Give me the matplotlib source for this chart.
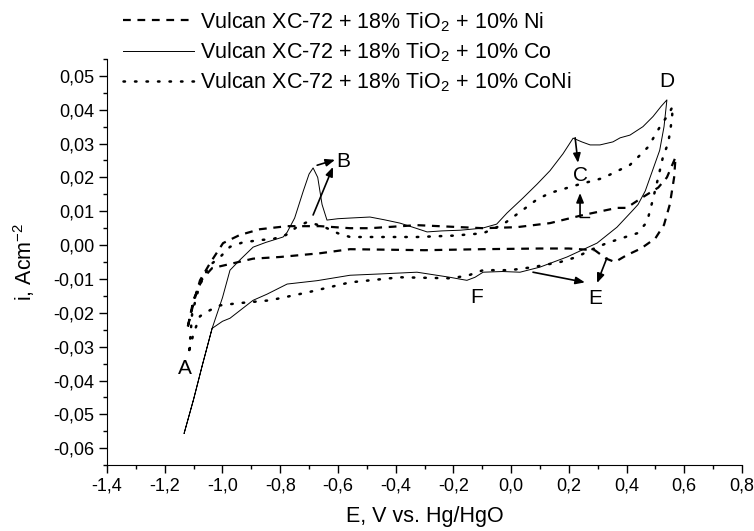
# VOLTAMETRIA CICLICA: Vulcan XC-72 + TiO2 com Ni, Co e CoNi

# Importando Biblioteca
import numpy as np
import matplotlib
matplotlib.use('Agg')
import matplotlib.pyplot as plt
from matplotlib.ticker import MultipleLocator, FuncFormatter

# DADOS (E em V vs. Hg/HgO, i em A/cm2)

# Co - linha cheia
potencial_co = [-1.133, -1.10, -1.07, -1.036, -1.0, -0.974, -0.94, -0.894, -0.85, -0.79,
                -0.776, -0.75, -0.72, -0.70, -0.686, -0.67, -0.655, -0.638, -0.60, -0.558,
                -0.489, -0.44, -0.385, -0.33, -0.291, -0.24, -0.177, -0.10, -0.05, -0.014,
                0.041, 0.09, 0.135, 0.18, 0.215, 0.245, 0.274, 0.308, 0.353, 0.378,
                0.412, 0.457, 0.492, 0.52, 0.54, 0.53, 0.515, 0.49, 0.465, 0.44,
                0.423, 0.367, 0.298, 0.194, 0.10, 0.031, -0.03, -0.097, -0.125, -0.153,
                -0.18, -0.212, -0.326, -0.45, -0.558, -0.672, -0.776, -0.846, -0.894, -0.974,
                -1.0, -1.036, -1.07, -1.10, -1.133]
corrente_co = [-0.0556, -0.0455, -0.0355, -0.0246, -0.0155, -0.0074, -0.0044, -0.0006, 0.0008, 0.0024,
               0.0038, 0.0080, 0.0160, 0.0210, 0.0228, 0.0200, 0.0120, 0.0074, 0.0078, 0.0080,
               0.0083, 0.0075, 0.0065, 0.0050, 0.0039, 0.0042, 0.0044, 0.0050, 0.0062, 0.0095,
               0.0139, 0.0180, 0.0220, 0.0270, 0.0316, 0.0305, 0.0296, 0.0296, 0.0305, 0.0317,
               0.0325, 0.0350, 0.0380, 0.0410, 0.0429, 0.0350, 0.0280, 0.0220, 0.0160, 0.0120,
               0.0104, 0.0053, 0.0006, -0.0035, -0.0065, -0.0080, -0.0078, -0.0080, -0.0095, -0.0104,
               -0.0100, -0.0095, -0.0080, -0.0085, -0.0089, -0.0105, -0.0115, -0.0145, -0.0163, -0.0216,
               -0.0225, -0.0246, -0.0355, -0.0455, -0.0556]

# Ni - linha tracejada
potencial_ni = [-1.12, -1.10, -1.078, -1.043, -0.998, -0.94, -0.87, -0.776, -0.662, -0.558,
                -0.489, -0.326, -0.097, 0.02, 0.135, 0.25, 0.367, 0.40, 0.457, 0.51,
                0.54, 0.56, 0.57, 0.565, 0.55, 0.53, 0.50, 0.45, 0.40, 0.36,
                0.33, 0.29, 0.20, 0.10, -0.10, -0.30, -0.558, -0.662, -0.80, -0.894,
                -0.97, -1.036, -1.07, -1.10, -1.12]
corrente_ni = [-0.0240, -0.0170, -0.0104, -0.0053, 0.0006, 0.0030, 0.0047, 0.0056, 0.0056, 0.0050,
               0.0050, 0.0059, 0.0050, 0.0053, 0.0065, 0.0089, 0.0110, 0.0110, 0.0142, 0.0170,
               0.0200, 0.0240, 0.0260, 0.0200, 0.0120, 0.0060, 0.0020, -0.0010, -0.0030, -0.0050,
               -0.0040, -0.0015, -0.0010, -0.0010, -0.0012, -0.0015, -0.0012, -0.0024, -0.0035, -0.0040,
               -0.0055, -0.0068, -0.0100, -0.0160, -0.0240]

# CoNi - linha pontilhada
potencial_coni = [-1.115, -1.105, -1.08, -1.045, -1.008, -0.974, -0.93, -0.87, -0.825, -0.78,
                  -0.74, -0.707, -0.67, -0.638, -0.60, -0.558, -0.45, -0.326, -0.20, -0.097,
                  -0.03, 0.041, 0.09, 0.135, 0.23, 0.318, 0.412, 0.44, 0.475, 0.499,
                  0.523, 0.545, 0.56, 0.558, 0.552, 0.544, 0.527, 0.51, 0.49, 0.471,
                  0.437, 0.40, 0.332, 0.274, 0.228, 0.17, 0.076, -0.004, -0.097, -0.15,
                  -0.21, -0.385, -0.558, -0.707, -0.835, -0.95, -1.008, -1.043, -1.078, -1.10,
                  -1.115]
corrente_coni = [-0.0310, -0.0200, -0.0120, -0.0060, -0.0035, -0.0005, 0.0008, 0.0015, 0.0018, 0.0030,
                 0.0055, 0.0068, 0.0060, 0.0050, 0.0035, 0.0024, 0.0024, 0.0024, 0.0028, 0.0035,
                 0.0060, 0.0104, 0.0135, 0.0154, 0.0178, 0.0198, 0.0237, 0.0260, 0.0290, 0.0325,
                 0.0360, 0.0385, 0.0410, 0.0380, 0.0340, 0.0300, 0.0263, 0.0200, 0.0130, 0.0068,
                 0.0035, 0.0025, 0.0006, -0.0015, -0.0035, -0.0050, -0.0065, -0.0074, -0.0074, -0.0090,
                 -0.0098, -0.0095, -0.0110, -0.0140, -0.0163, -0.0172, -0.0178, -0.0192, -0.0210, -0.0260,
                 -0.0310]

legendas = ['Vulcan XC-72 + 18% TiO$_\\mathregular{2}$ + 10% Ni',
            'Vulcan XC-72 + 18% TiO$_\\mathregular{2}$ + 10% Co',
            'Vulcan XC-72 + 18% TiO$_\\mathregular{2}$ + 10% CoNi']

# FONTE PARECIDA COM ARIAL
plt.rcParams['font.family'] = ['Liberation Sans', 'DejaVu Sans']
plt.rcParams['mathtext.fontset'] = 'custom'
plt.rcParams['mathtext.rm'] = 'Liberation Sans'

fig = plt.figure(figsize=(7.54, 5.31), dpi=100)
ax = fig.add_axes([0.142, 0.124, 0.842, 0.765])

# CURVAS
ax.plot(potencial_ni, corrente_ni, color='black', lw=1.6, linestyle=(0, (3.5, 3.0)), label=legendas[0])
ax.plot(potencial_co, corrente_co, color='black', lw=0.7, label=legendas[1])
ax.plot(potencial_coni, corrente_coni, color='black', lw=1.8, linestyle=(0, (0.6, 4.0)),
        dash_capstyle='round', label=legendas[2])

# EIXOS
ax.set_xlim(-1.4, 0.8)
ax.set_ylim(-0.065, 0.055)
ax.spines['top'].set_visible(False)
ax.spines['right'].set_visible(False)
ax.xaxis.set_major_locator(MultipleLocator(0.2))
ax.xaxis.set_minor_locator(MultipleLocator(0.1))
ax.yaxis.set_major_locator(MultipleLocator(0.01))
ax.yaxis.set_minor_locator(MultipleLocator(0.005))
ax.xaxis.set_major_formatter(FuncFormatter(lambda v, p: f'{v:.1f}'.replace('.', ',').replace('-0,0', '0,0')))
ax.yaxis.set_major_formatter(FuncFormatter(lambda v, p: f'{v:.2f}'.replace('.', ',').replace('-0,00', '0,00')))
ax.tick_params(which='major', length=6, width=1, labelsize=13, pad=3)
ax.tick_params(which='minor', length=3, width=1)
ax.set_xlabel('E, V vs. Hg/HgO', fontsize=15.5, labelpad=8)
ax.set_ylabel('i, Acm$^{\\mathregular{-2}}$', fontsize=15.5, labelpad=12)

# LETRAS E SETAS
seta = dict(arrowstyle='-|>,head_length=0.55,head_width=0.22', color='black', lw=1.2, shrinkA=0, shrinkB=0)
ax.text(-1.13, -0.0365, 'A', fontsize=15, ha='center', va='center')
ax.text(-0.58, 0.0246, 'B', fontsize=15, ha='center', va='center')
ax.annotate('', xy=(-0.61, 0.0252), xytext=(-0.672, 0.0236), arrowprops=seta)
ax.annotate('', xy=(-0.617, 0.0231), xytext=(-0.686, 0.0089), arrowprops=seta)
ax.text(0.239, 0.0207, 'C', fontsize=15, ha='center', va='center')
ax.annotate('', xy=(0.232, 0.0243), xytext=(0.222, 0.0317), arrowprops=seta)
ax.annotate('', xy=(0.239, 0.0154), xytext=(0.239, 0.0083), arrowprops=seta)
ax.plot([0.239, 0.27], [0.0083, 0.0083], color='black', lw=1.0)
ax.text(0.54, 0.0482, 'D', fontsize=15, ha='center', va='center')
ax.text(0.291, -0.0157, 'E', fontsize=15, ha='center', va='center')
ax.annotate('', xy=(0.256, -0.011), xytext=(0.076, -0.008), arrowprops=seta)
ax.annotate('', xy=(0.298, -0.0112), xytext=(0.332, -0.0038), arrowprops=seta)
ax.text(-0.118, -0.0154, 'F', fontsize=15, ha='center', va='center')

# LEGENDA NO TOPO
fig.legend(loc='upper left', bbox_to_anchor=(123 / 754, 1 - 10 / 531), frameon=False, fontsize=15.5,
           handlelength=3.3, handletextpad=0.3, labelspacing=0.3, borderpad=0, borderaxespad=0)

plt.savefig('out.png', dpi=100)
